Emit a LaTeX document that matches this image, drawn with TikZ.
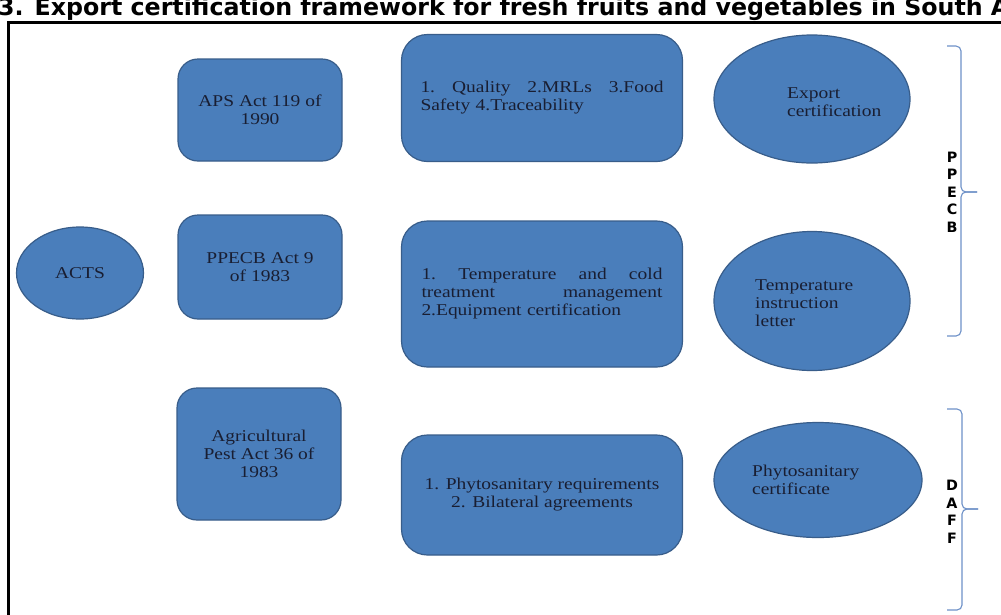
\documentclass[tikz,border=0pt]{standalone}
\usepackage{fontspec}
\setmainfont{Liberation Serif}[FakeStretch=1.18]
\newfontfamily\headfont{DejaVu Sans}
\usetikzlibrary{shapes.geometric}
\definecolor{boxblue}{RGB}{74,126,187}
\definecolor{boxedge}{RGB}{56,93,138}
\definecolor{inkblue}{RGB}{25,30,50}
\definecolor{bracegray}{RGB}{110,145,200}
\begin{document}
\begin{tikzpicture}[x=1pt, y=-1pt,
    actbox/.style={draw=boxedge, fill=boxblue, line width=1.2pt, rounded corners=20pt,
      minimum width=164pt, inner sep=0pt, text=inkblue, font=\fontsize{16.5}{18}\selectfont, align=center},
    reqbox/.style={actbox, rounded corners=26pt, minimum width=281pt},
    oval/.style={ellipse, draw=boxedge, fill=boxblue, line width=1.2pt, inner sep=0pt,
      text=inkblue, font=\fontsize{16.5}{18}\selectfont},
    tag/.style={text=inkblue, font=\fontsize{16.5}{18}\selectfont, align=left, inner sep=0pt},
    brace/.style={draw=bracegray, line width=1.1pt, rounded corners=5pt},
    bodylabel/.style={font=\headfont\bfseries\fontsize{14.3}{17.5}\selectfont, align=center, inner sep=0pt}]
    \clip (0,0) rectangle (1001,614);
    \fill[white] (0,0) rectangle (1001,614);

    \node [font=\headfont\bfseries\fontsize{23.7}{26}\selectfont, anchor=base west, inner sep=0pt] (title)
      at (-2,15) {3. Export certification framework for fresh fruits and vegetables in South Africa};
    \draw [line width=3pt] (8,22) rectangle (1014,632);

    \node [oval, minimum width=127pt, minimum height=92pt] (acts) at (80,273) {ACTS};

    \node [actbox, minimum height=102pt] (aps) at (260,110) {APS Act 119 of\\1990};
    \node [actbox, minimum height=104pt] (ppecbact) at (260,267) {PPECB Act 9\\of 1983};
    \node [actbox, minimum height=132pt] (pestact) at (259,454) {Agricultural\\Pest Act 36 of\\1983};

    \node [reqbox, minimum height=127pt, text width=243pt, align=left] (quality) at (542,98)
      {1.\hfill Quality\hfill 2.MRLs\hfill 3.Food\\Safety 4.Traceability};
    \node [reqbox, minimum height=146pt, text width=241pt, align=left] (coldchain) at (542,294)
      {1.\hfill Temperature\hfill and\hfill cold\\treatment\hfill management\\2.Equipment certification};
    \node [reqbox, minimum height=120pt] (phytoreq) at (542,495)
      {1. Phytosanitary requirements\\2. Bilateral agreements};

    \node [oval, minimum width=196pt, minimum height=128pt] (export) at (812,99) {};
    \node [tag, anchor=west] (exporttext) at (787,102) {Export\\certification};
    \node [oval, minimum width=196pt, minimum height=139pt] (templetter) at (812,301) {};
    \node [tag, anchor=west] (templettertext) at (755,303) {Temperature\\instruction\\letter};
    \node [oval, minimum width=208pt, minimum height=115pt] (phytocert) at (818,480) {};
    \node [tag, anchor=west] (phytocerttext) at (752,480) {Phytosanitary\\certificate};

    \coordinate (ppecbtop) at (947,46);
    \coordinate (ppecbtip) at (977,192);
    \coordinate (ppecbbot) at (947,336);
    \draw [brace] (ppecbtop) -- (961,46) -- (961,192) -- (ppecbtip);
    \draw [brace] (ppecbtip) -- (961,192) -- (961,336) -- (ppecbbot);
    \node [bodylabel] (ppecb) at (952,192) {P\\P\\E\\C\\B};

    \coordinate (dafftop) at (947,409);
    \coordinate (dafftip) at (978,509);
    \coordinate (daffbot) at (947,610);
    \draw [brace] (dafftop) -- (962,409) -- (962,509) -- (dafftip);
    \draw [brace] (dafftip) -- (962,509) -- (962,610) -- (daffbot);
    \node [bodylabel] (daff) at (952,512) {D\\A\\F\\F};
  \end{tikzpicture}
\end{document}
